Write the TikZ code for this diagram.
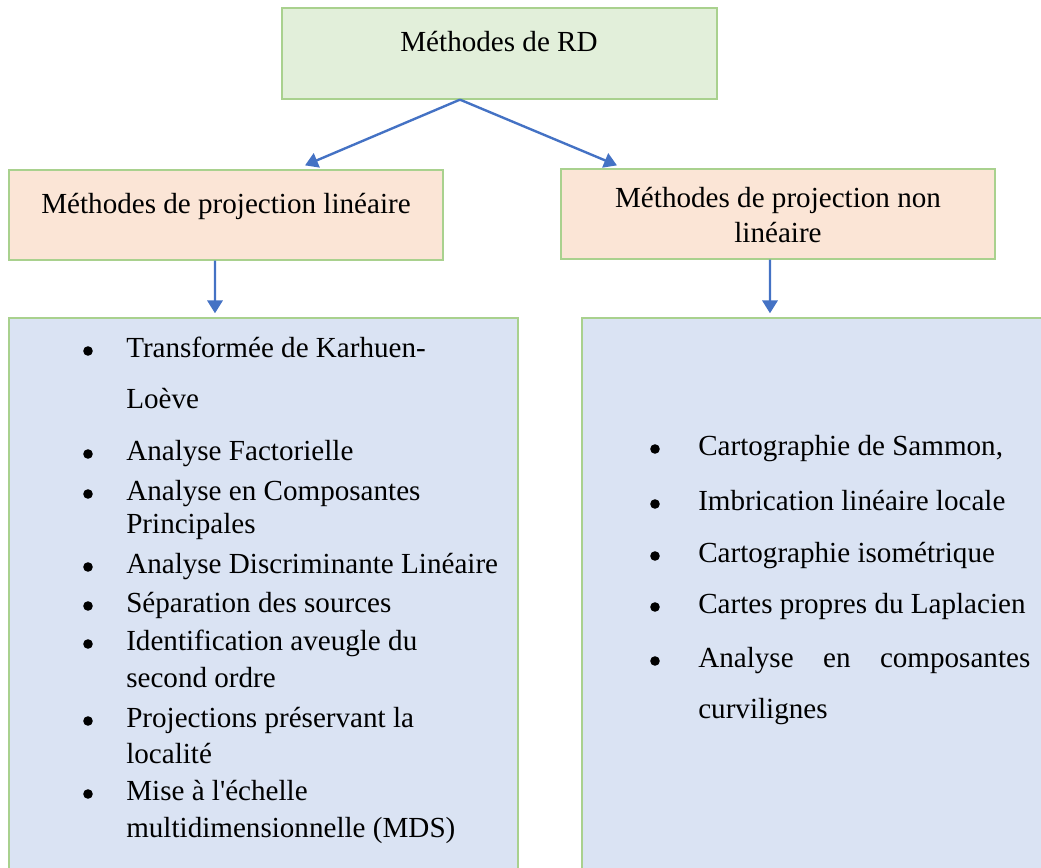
\documentclass[tikz,border=0pt]{standalone}
\usepackage{fontspec}
\setmainfont{Liberation Serif}
\usetikzlibrary{arrows.meta,positioning}

\definecolor{vertfond}{HTML}{E2EFDA}
\definecolor{vertbord}{HTML}{A9D18E}
\definecolor{orfond}{HTML}{FBE5D6}
\definecolor{bleufond}{HTML}{DAE3F3}
\definecolor{bleulien}{HTML}{4472C4}

\tikzset{
  boite/.style={draw=vertbord, line width=0.9pt, inner sep=0pt},
  txt/.style={inner sep=0pt, font=\fontsize{20.7}{24}\selectfont},
  item/.style={txt, anchor=base west},
  lien/.style={draw=bleulien, line width=1.7pt, -{Triangle[width=0.38cm,length=0.32cm]}}
}

\begin{document}
\begin{tikzpicture}[x=0.025cm, y=-0.025cm]
\useasboundingbox (0,0) rectangle (1041,868);
\clip (0,0) rectangle (1041,868);

% Boites
\node[boite, fill=vertfond, minimum width=10.875cm, minimum height=2.275cm] (rd) at (499.5,53.5) {};
\node[boite, fill=orfond, minimum width=10.85cm, minimum height=2.25cm] (lin) at (226,215) {};
\node[boite, fill=orfond, minimum width=10.85cm, minimum height=2.25cm] (nonlin) at (778,214) {};
\node[boite, fill=bleufond, minimum width=12.725cm, minimum height=14.55cm] (lst) at (263.5,609) {};
\node[boite, fill=bleufond, minimum width=12.45cm, minimum height=14.55cm] (lst2) at (831,609) {};

% Titres
\node[txt, anchor=base] (rdtxt) at (499,52) {Méthodes de RD};
\node[txt, anchor=base] (lintxt) at (226,213) {Méthodes de projection linéaire};
\node[txt, anchor=base] (nonlintxt) at (778,207) {Méthodes de projection non};
\node[txt, anchor=base] (nonlintxtb) at (778,242) {linéaire};

% Fleches
\draw[lien] ([xshift=-0.9875cm]rd.south) -- ([xshift=1.975cm,yshift=0.1cm]lin.north);
\draw[lien] ([xshift=-0.9875cm]rd.south) -- ([xshift=-4.025cm,yshift=0.075cm]nonlin.north);
\draw[lien] ([xshift=-0.275cm]lin.south) -- ([xshift=-1.2125cm,yshift=0.1cm]lst.north);
\draw[lien] ([xshift=-0.2cm]nonlin.south) -- ([xshift=-1.525cm,yshift=0.1cm]lst2.north);

% Liste lineaire
\foreach \y/\t [count=\i] in {357/{Transformée de Karhuen-}, 408/{Loève},
    460/{Analyse Factorielle}, 500/{Analyse en Composantes}, 533/{Principales},
    573/{Analyse Discriminante Linéaire}, 612/{Séparation des sources},
    650/{Identification aveugle du}, 687/{second ordre},
    727/{Projections préservant la}, 763/{localité},
    800/{Mise à l\textquotesingle échelle}, 837/{multidimensionnelle (MDS)}}
  \node[item] (g\i) at (126,\y) {\t};
\foreach \y in {357,460,500,573,612,650,727,800}
  \fill (88,\y-6) circle (0.12cm);

% Liste non lineaire
\foreach \y/\t [count=\i] in {455/{Cartographie de Sammon,}, 510/{Imbrication linéaire locale},
    562/{Cartographie isométrique}, 613/{Cartes propres du Laplacien},
    667/{\makebox[8.3cm][s]{Analyse en composantes}}, 718/{curvilignes}}
  \node[item] (d\i) at (698,\y) {\t};
\foreach \y in {455,510,562,613,667}
  \fill (655,\y-6) circle (0.12cm);

\end{tikzpicture}
\end{document}
